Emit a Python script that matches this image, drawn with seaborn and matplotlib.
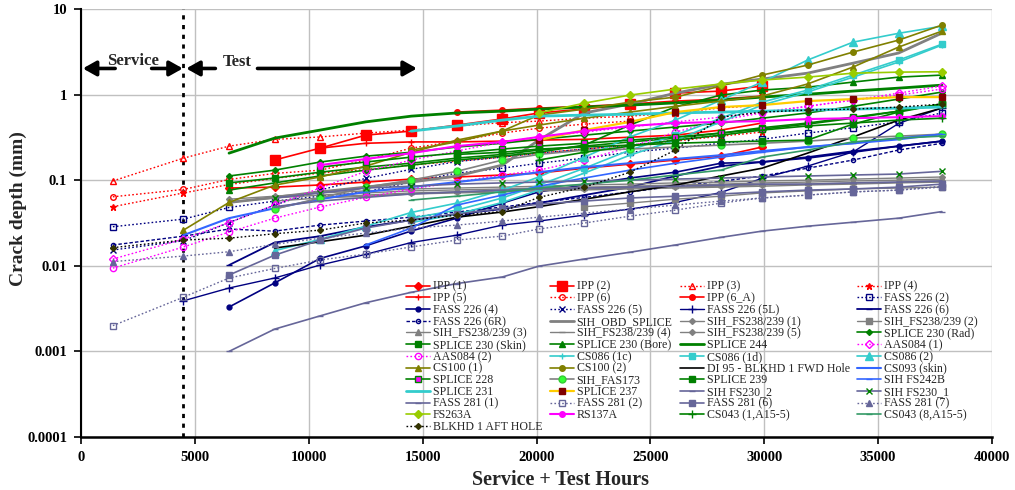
import matplotlib
matplotlib.use("Agg")
import matplotlib.pyplot as plt
import matplotlib.ticker as mticker
import pandas as pd
import seaborn as sns

# ---------------- data ----------------
hours = [1400, 4500, 6500, 8500, 10500, 12500, 14500, 16500, 18500, 20100,
         22100, 24100, 26100, 28100, 29900, 31900, 33900, 35900, 37800]

ipp_1 = [0.081, 0.083, 0.088, 0.095, 0.103, 0.109, 0.115, 0.121, 0.138, 0.154, 0.172, 0.191, 0.244]
ipp_2 = [0.172, 0.237, 0.336, 0.375, 0.44, 0.52, 0.61, 0.68, 0.77, 1.04, 1.10, 1.26]
ipp_3 = [0.098, 0.181, 0.25, 0.30, 0.32, 0.355, 0.385, 0.43, 0.47, 0.49, 0.53, 0.56, 0.61, 0.70, 0.75]
ipp_4 = [0.049, 0.071, 0.089, 0.105, 0.121, 0.133, 0.150, 0.167, 0.186, 0.207, 0.231, 0.257, 0.286, 0.327, 0.365]
ipp_5 = [0.237, 0.27, 0.28, 0.28, 0.286, 0.294, 0.30, 0.318, 0.336, 0.385, 0.465]
ipp_6 = [0.064, 0.078, 0.102, 0.12, 0.131, 0.172, 0.237, 0.286, 0.355, 0.405, 0.452, 0.49]
ipp_6a = [0.625, 0.659, 0.695, 0.73, 0.775, 0.84, 0.886, 0.96]
fass226_2 = [0.0286, 0.0351, 0.048, 0.057, 0.065, 0.073, 0.095, 0.121, 0.138, 0.158, 0.181, 0.212,
             0.237, 0.27, 0.30, 0.355, 0.41, 0.48, 0.61]
fass226_4 = [0.0033, 0.0063, 0.0122, 0.0171, 0.0255, 0.036, 0.054, 0.073, 0.088, 0.106, 0.124,
             0.158, 0.163, 0.181, 0.212, 0.25, 0.286]
fass226_5 = [0.0153, 0.0196, 0.032, 0.0512, 0.0766, 0.105, 0.134, 0.165, 0.186, 0.207, 0.231,
             0.257, 0.294, 0.336]
fass226_5l = [0.0039, 0.0055, 0.0072, 0.0102, 0.0136, 0.0187, 0.0228, 0.0299, 0.0333, 0.0391,
              0.046, 0.055, 0.072, 0.105, 0.146, 0.214, 0.46, 0.70]
fass226_6 = [0.0102, 0.0187, 0.0222, 0.0284, 0.0342, 0.0402, 0.046, 0.054, 0.067, 0.083, 0.112,
             0.146, 0.163, 0.186, 0.218, 0.25, 0.286]
fass226_6r = [0.0175, 0.0222, 0.0269, 0.0254, 0.0299, 0.0333, 0.037, 0.0425, 0.0486, 0.055, 0.063,
              0.073, 0.085, 0.097, 0.112, 0.138, 0.172, 0.225, 0.27]
sih_obd = [0.055, 0.063, 0.073, 0.083, 0.095, 0.112, 0.150, 0.294, 0.61, 0.775, 1.04, 1.32, 1.52,
           1.78, 2.33, 3.06, 5.23]
sih_1 = [0.060, 0.065, 0.071, 0.075, 0.079, 0.081, 0.083, 0.085, 0.088, 0.090, 0.093, 0.095, 0.098,
         0.100, 0.103, 0.106, 0.109]
sih_2 = [0.049, 0.054, 0.060, 0.065, 0.071, 0.075, 0.079, 0.081, 0.083]
sih_3 = [0.055, 0.062, 0.067, 0.071, 0.075, 0.077, 0.079, 0.081, 0.083, 0.085, 0.088, 0.090, 0.093,
         0.095, 0.098, 0.100, 0.103]
sih_4 = [0.057, 0.062, 0.065, 0.069, 0.071, 0.073, 0.075, 0.077, 0.079, 0.081, 0.083, 0.085, 0.088,
         0.090, 0.093, 0.095]
sih_5 = [0.063, 0.067, 0.071, 0.073, 0.075, 0.077, 0.079, 0.081, 0.083, 0.085, 0.088, 0.090, 0.093,
         0.095, 0.098]
splice230_rad = [0.112, 0.131, 0.163, 0.191, 0.212, 0.244, 0.27, 0.30, 0.336, 0.375, 0.418, 0.465,
                 0.53, 0.61, 0.73, 0.886, 1.07]
splice230_skin = [0.093, 0.106, 0.124, 0.142, 0.158, 0.181, 0.20, 0.225, 0.25, 0.28, 0.31, 0.355,
                  0.41, 0.465, 0.545, 0.64, 0.775]
splice230_bore = [0.0766, 0.093, 0.112, 0.131, 0.150, 0.172, 0.191, 0.212, 0.257, 0.44, 0.72, 0.987,
                  1.13, 1.22, 1.40, 1.60, 1.69]
splice244 = [0.207, 0.31, 0.385, 0.48, 0.56, 0.61, 0.64, 0.677, 0.715, 0.754, 0.80, 0.862, 0.935,
             1.01, 1.10, 1.19, 1.29]
aas084_1 = [0.012, 0.0205, 0.032, 0.0512, 0.081, 0.127, 0.172, 0.219, 0.28, 0.32, 0.365, 0.418,
            0.48, 0.545, 0.625, 0.73, 0.862, 1.04, 1.26]
aas084_2 = [0.0094, 0.0166, 0.0248, 0.036, 0.0486, 0.063, 0.079, 0.095, 0.115, 0.131, 0.172, 0.244,
            0.365, 0.504, 0.61, 0.73, 0.862, 0.987, 1.16]
cs086_1c = [0.032, 0.040, 0.055, 0.0766, 0.121, 0.196, 0.294, 0.48, 0.754, 1.07, 1.60, 2.40, 3.79]
cs086_1d = [0.036, 0.0447, 0.062, 0.0877, 0.138, 0.225, 0.336, 0.53, 0.815, 1.13, 1.69, 2.53, 3.88]
cs086_2 = [0.015, 0.0204, 0.029, 0.042, 0.054, 0.0766, 0.109, 0.186, 0.32, 0.504, 0.862, 1.40,
           2.53, 4.1, 5.2, 6.3]
cs100_1 = [0.0261, 0.055, 0.0877, 0.109, 0.146, 0.212, 0.294, 0.375, 0.44, 0.53, 0.625, 0.73,
           0.84, 0.96, 1.33, 2.10, 3.59, 5.52]
cs100_2 = [0.225, 0.28, 0.375, 0.576, 0.677, 0.815, 0.935, 1.26, 1.69, 2.21, 3.14, 4.33, 6.49]
di95_fwd = [0.0161, 0.0191, 0.0228, 0.029, 0.037, 0.0425, 0.049, 0.060, 0.073, 0.0877, 0.112,
            0.138, 0.207, 0.32, 0.504, 0.695]
cs093_skin = [0.0228, 0.036, 0.047, 0.060, 0.073, 0.083, 0.095, 0.109, 0.124, 0.142, 0.158, 0.177,
              0.196, 0.219, 0.244, 0.27, 0.30, 0.345]
splice228 = [0.142, 0.163, 0.186, 0.207, 0.231, 0.25, 0.27, 0.294, 0.32, 0.355, 0.396, 0.452, 0.53,
             0.64, 0.775]
sih_fas173 = [0.046, 0.062, 0.083, 0.100, 0.127, 0.172, 0.20, 0.225, 0.231, 0.244, 0.257, 0.27,
              0.286, 0.31, 0.327, 0.345]
splice239 = [0.20, 0.212, 0.231, 0.244, 0.257, 0.27, 0.28, 0.286, 0.294, 0.452, 0.625, 0.775]
sih_fs242b = [0.0175, 0.0276, 0.0512, 0.067, 0.085, 0.106, 0.131, 0.158, 0.186, 0.212, 0.244, 0.27,
              0.31, 0.345]
splice231 = [0.375, 0.43, 0.504, 0.56, 0.576, 0.59, 0.61, 0.625, 0.64, 0.659, 0.677, 0.695, 0.715]
splice237 = [0.294, 0.385, 0.48, 0.625, 0.715, 0.754, 0.84, 0.886, 0.935, 0.935]
sih_fs230_2 = [0.049, 0.057, 0.063, 0.069, 0.073, 0.0766, 0.079, 0.081, 0.083, 0.085, 0.0877, 0.090,
               0.090, 0.093, 0.095, 0.098]
sih_fs230_1 = [0.062, 0.071, 0.081, 0.085, 0.090, 0.093, 0.095, 0.098, 0.100, 0.103, 0.106, 0.109,
               0.112, 0.115, 0.118, 0.127]
fass281_1 = [0.0010, 0.00182, 0.0026, 0.0037, 0.0049, 0.0062, 0.0074, 0.0099, 0.012, 0.0144, 0.0175,
             0.0215, 0.0254, 0.029, 0.0323, 0.036, 0.043]
fass281_2 = [0.0020, 0.0043, 0.0072, 0.0093, 0.0117, 0.0137, 0.0166, 0.020, 0.0222, 0.0269, 0.0316,
             0.038, 0.0447, 0.054, 0.062, 0.067, 0.073, 0.0766, 0.083]
fass281_6 = [0.0078, 0.0133, 0.020, 0.0276, 0.0342, 0.0402, 0.047, 0.0526, 0.057, 0.062, 0.065,
             0.069, 0.073, 0.0766, 0.079, 0.083, 0.090]
fass281_7 = [0.0112, 0.013, 0.0146, 0.0178, 0.021, 0.0241, 0.0276, 0.0299, 0.0333, 0.037, 0.0412,
             0.046, 0.0512, 0.057, 0.062, 0.067, 0.073, 0.0766, 0.085]
fs263a = [0.61, 0.795, 0.987, 1.16, 1.33, 1.48, 1.60, 1.78, 1.83, 1.85]
rs137a = [0.150, 0.177, 0.207, 0.25, 0.28, 0.32, 0.375, 0.43, 0.465, 0.48, 0.49, 0.518, 0.53, 0.545,
          0.56]
cs043_1 = [0.172, 0.212, 0.25, 0.294, 0.336, 0.385, 0.43, 0.465, 0.504, 0.53]
cs043_8 = [0.0586, 0.065, 0.073, 0.081, 0.090, 0.100, 0.115, 0.131, 0.186, 0.225, 0.28, 0.31, 0.327]
blkhd_aft = [0.0163, 0.020, 0.021, 0.0237, 0.0261, 0.0316, 0.0342, 0.0391, 0.043, 0.063, 0.083,
             0.124, 0.225, 0.545, 0.625, 0.659, 0.677, 0.715, 0.775]

# label, index of first reading in `hours`, values (legend order, row by row)
series = [
    ("IPP (1)", 2, ipp_1), ("IPP (2)", 3, ipp_2), ("IPP (3)", 0, ipp_3), ("IPP (4)", 0, ipp_4),
    ("IPP (5)", 4, ipp_5), ("IPP (6)", 0, ipp_6), ("IPP (6_A)", 7, ipp_6a), ("FASS 226 (2)", 0, fass226_2),
    ("FASS 226 (4)", 2, fass226_4), ("FASS 226 (5)", 0, fass226_5), ("FASS 226 (5L)", 1, fass226_5l),
    ("FASS 226 (6)", 2, fass226_6),
    ("FASS 226 (6R)", 0, fass226_6r), ("SIH_OBD_SPLICE", 2, sih_obd), ("SIH_FS238/239 (1)", 2, sih_1),
    ("SIH_FS238/239 (2)", 10, sih_2),
    ("SIH_FS238/239 (3)", 2, sih_3), ("SIH_FS238/239 (4)", 3, sih_4), ("SIH_FS238/239 (5)", 4, sih_5),
    ("SPLICE 230 (Rad)", 2, splice230_rad),
    ("SPLICE 230 (Skin)", 2, splice230_skin), ("SPLICE 230 (Bore)", 2, splice230_bore),
    ("SPLICE 244", 2, splice244), ("AAS084 (1)", 0, aas084_1),
    ("AAS084 (2)", 0, aas084_2), ("CS086 (1c)", 6, cs086_1c), ("CS086 (1d)", 6, cs086_1d),
    ("CS086 (2)", 3, cs086_2),
    ("CS100 (1)", 1, cs100_1), ("CS100 (2)", 6, cs100_2), ("DI 95 - BLKHD 1 FWD Hole", 3, di95_fwd),
    ("CS093 (skin)", 1, cs093_skin),
    ("SPLICE 228", 4, splice228), ("SIH_FAS173", 3, sih_fas173), ("SPLICE 239", 7, splice239),
    ("SIH FS242B", 5, sih_fs242b),
    ("SPLICE 231", 6, splice231), ("SPLICE 237", 9, splice237), ("SIH FS230_2", 3, sih_fs230_2),
    ("SIH FS230_1", 3, sih_fs230_1),
    ("FASS 281 (1)", 2, fass281_1), ("FASS 281 (2)", 0, fass281_2), ("FASS 281 (6)", 2, fass281_6),
    ("FASS 281 (7)", 0, fass281_7),
    ("FS263A", 9, fs263a), ("RS137A", 4, rs137a), ("CS043 (1,A15-5)", 9, cs043_1),
    ("CS043 (8,A15-5)", 6, cs043_8),
    ("BLKHD 1 AFT HOLE", 0, blkhd_aft),
]

# ---------------- styles ----------------
RED, NAVY, GRAY, GREEN = "#FF0000", "#000080", "#808080", "#008000"
MAG, TURQ, OLIVE, SLATE = "#FF00FF", "#33CCCC", "#808000", "#666699"
BLUE = "#3366FF"
DOT = (0, (1.2, 1.6))
DASH = (0, (2.5, 1.5))


def st(color, marker=None, ls="-", lw=1.0, ms=4, mfc=None, mec=None):
    return dict(color=color, marker=marker, ls=ls, lw=lw, ms=ms,
                mfc=color if mfc is None else mfc, mec=color if mec is None else mec)


styles = {
    "IPP (1)": st(RED, "D", lw=1.2, ms=4),
    "IPP (2)": st(RED, "s", lw=1.2, ms=7),
    "IPP (3)": st(RED, "^", DOT, ms=4, mfc="none"),
    "IPP (4)": st(RED, "*", DOT, ms=5),
    "IPP (5)": st(RED, "+", lw=1.2, ms=5),
    "IPP (6)": st(RED, "o", DOT, ms=4, mfc="none"),
    "IPP (6_A)": st(RED, "o", lw=1.2, ms=4),
    "FASS 226 (2)": st(NAVY, "s", DOT, ms=4, mfc="none"),
    "FASS 226 (4)": st(NAVY, "o", lw=1.2, ms=3.5),
    "FASS 226 (5)": st(NAVY, "x", DOT, ms=4),
    "FASS 226 (5L)": st(NAVY, "+", ms=6),
    "FASS 226 (6)": st(NAVY, "_", lw=1.3, ms=5),
    "FASS 226 (6R)": st(NAVY, "o", DASH, ms=3, mfc="none"),
    "SIH_OBD_SPLICE": st(GRAY, None, lw=2.0),
    "SIH_FS238/239 (1)": st(GRAY, "D", ms=3),
    "SIH_FS238/239 (2)": st(GRAY, "s", ms=4),
    "SIH_FS238/239 (3)": st(GRAY, "^", ms=4),
    "SIH_FS238/239 (4)": st(GRAY, "_", ms=4),
    "SIH_FS238/239 (5)": st(GRAY, "D", ms=3),
    "SPLICE 230 (Rad)": st(GREEN, "D", lw=1.2, ms=3),
    "SPLICE 230 (Skin)": st(GREEN, "s", lw=1.2, ms=4),
    "SPLICE 230 (Bore)": st(GREEN, "^", lw=1.2, ms=4),
    "SPLICE 244": st(GREEN, None, lw=2.0),
    "AAS084 (1)": st(MAG, "D", DOT, ms=4, mfc="none"),
    "AAS084 (2)": st(MAG, "o", DOT, ms=4.5, mfc="none"),
    "CS086 (1c)": st(TURQ, "+", lw=1.2, ms=4),
    "CS086 (1d)": st(TURQ, "s", lw=1.2, ms=5),
    "CS086 (2)": st(TURQ, "^", lw=1.2, ms=6),
    "CS100 (1)": st(OLIVE, "^", lw=1.2, ms=4),
    "CS100 (2)": st(OLIVE, "o", lw=1.2, ms=4),
    "DI 95 - BLKHD 1 FWD Hole": st("#000000", None, lw=1.2),
    "CS093 (skin)": st(BLUE, None, lw=1.5),
    "SPLICE 228": st(GREEN, "s", lw=1.2, ms=4, mfc=MAG, mec=GREEN),
    "SIH_FAS173": st(GRAY, "o", lw=1.2, ms=5, mfc="#33FF33", mec="#33CC33"),
    "SPLICE 239": st(GREEN, "s", lw=1.2, ms=4),
    "SIH FS242B": st(BLUE, "_", lw=1.2, ms=4),
    "SPLICE 231": st(TURQ, "_", lw=2.0, ms=4),
    "SPLICE 237": st("#FFCC00", "s", lw=1.6, ms=5, mfc="#800000", mec="#800000"),
    "SIH FS230_2": st(SLATE, "_", lw=1.2, ms=4),
    "SIH FS230_1": st(SLATE, "x", lw=1.2, ms=4, mec=GREEN),
    "FASS 281 (1)": st(SLATE, "_", lw=1.2, ms=4),
    "FASS 281 (2)": st(SLATE, "s", DOT, ms=4, mfc="none"),
    "FASS 281 (6)": st(SLATE, "s", lw=1.2, ms=4),
    "FASS 281 (7)": st(SLATE, "^", DOT, ms=4),
    "FS263A": st("#99CC00", "D", lw=1.2, ms=4),
    "RS137A": st(MAG, "o", lw=1.5, ms=4),
    "CS043 (1,A15-5)": st(GREEN, "+", lw=1.2, ms=6),
    "CS043 (8,A15-5)": st("#339966", "_", lw=1.2, ms=4),
    "BLKHD 1 AFT HOLE": st("#000000", "D", DOT, ms=3, mfc="#333300", mec="#333300"),
}

# ---------------- figure ----------------
sns.set_style("white")
plt.rcParams["font.family"] = ["Liberation Serif", "DejaVu Serif"]

fig = plt.figure(figsize=(10.15, 4.9), dpi=100)
ax = fig.add_axes([81 / 1015, 1 - 437 / 490, 911 / 1015, 428 / 490])

for label, start, vals in series:
    df = pd.DataFrame({"hours": hours[start:start + len(vals)], "depth": vals})
    s = styles[label]
    sns.lineplot(data=df, x="hours", y="depth", ax=ax, label=label, sort=False,
                 estimator=None, color=s["color"], linestyle=s["ls"], linewidth=s["lw"],
                 marker=s["marker"], markersize=s["ms"], markerfacecolor=s["mfc"],
                 markeredgecolor=s["mec"], markeredgewidth=1.0)

ax.set_yscale("log")
ax.set_ylim(1e-4, 10)
ax.set_xlim(0, 40000)
ax.xaxis.set_major_locator(mticker.MultipleLocator(5000))
ax.yaxis.set_major_locator(mticker.FixedLocator([1e-4, 1e-3, 1e-2, 1e-1, 1, 10]))
ax.yaxis.set_major_formatter(mticker.FixedFormatter(["0.0001", "0.001", "0.01", "0.1", "1", "10"]))
ax.yaxis.set_minor_locator(mticker.NullLocator())
ax.xaxis.set_major_formatter(mticker.FuncFormatter(lambda v, p: f"{int(v)}"))
ax.grid(True, which="major", color="#C0C0C0", lw=1.0)
ax.set_axisbelow(True)
for side in ("top", "right"):
    ax.spines[side].set_visible(False)
ax.spines["left"].set_color("black")
ax.spines["left"].set_linewidth(1.5)
ax.spines["bottom"].set_color("black")
ax.spines["bottom"].set_linewidth(1.8)
ax.tick_params(axis="both", direction="out", length=5, width=1.2, colors="black",
               labelsize=10.5, pad=5, left=True, bottom=True)
for t in ax.get_xticklabels() + ax.get_yticklabels():
    t.set_fontweight("bold")
ax.set_xlabel("")
ax.set_ylabel("")
fig.text(560 / 1015, 1 - 480 / 490, "Service + Test Hours", ha="center", va="center",
         fontsize=14.5, fontweight="bold")
fig.text(18 / 1015, 1 - 209 / 490, "Crack depth (mm)", ha="center", va="center",
         rotation=90, fontsize=14, fontweight="bold")

# service / test boundary and arrows
ax.axvline(4500, color="black", ls=(0, (1.5, 2.0)), lw=2.0, zorder=1.5)
arrow = dict(arrowstyle="-|>,head_length=0.8,head_width=0.45", lw=2.6, color="black",
             shrinkA=0, shrinkB=0)
y_arr = 2.02
ax.annotate("", xy=(80, y_arr), xytext=(1500, y_arr), arrowprops=arrow)
ax.annotate("", xy=(4470, y_arr), xytext=(3100, y_arr), arrowprops=arrow)
ax.text(2300, 2.5, "Service", ha="center", va="center", fontsize=12, fontweight="bold")
ax.annotate("", xy=(4620, y_arr), xytext=(5900, y_arr), arrowprops=arrow)
ax.annotate("", xy=(14750, y_arr), xytext=(7750, y_arr), arrowprops=arrow)
ax.text(6850, 2.42, "Test", ha="center", va="center", fontsize=12, fontweight="bold")

# legend, filled row by row like the original
handles, labels = ax.get_legend_handles_labels()
n, ncol = len(handles), 4
order = [i for c in range(ncol) for i in range(c, n, ncol)]
ax.legend([handles[i] for i in order], [labels[i] for i in order], ncol=ncol,
          loc="upper left", bbox_to_anchor=(0.357, 0.365), frameon=False, fontsize=8.6,
          labelspacing=-0.025, handlelength=2.0, handletextpad=0.25, columnspacing=0.6,
          borderaxespad=0, borderpad=0)

fig.savefig("out.png", dpi=100)
